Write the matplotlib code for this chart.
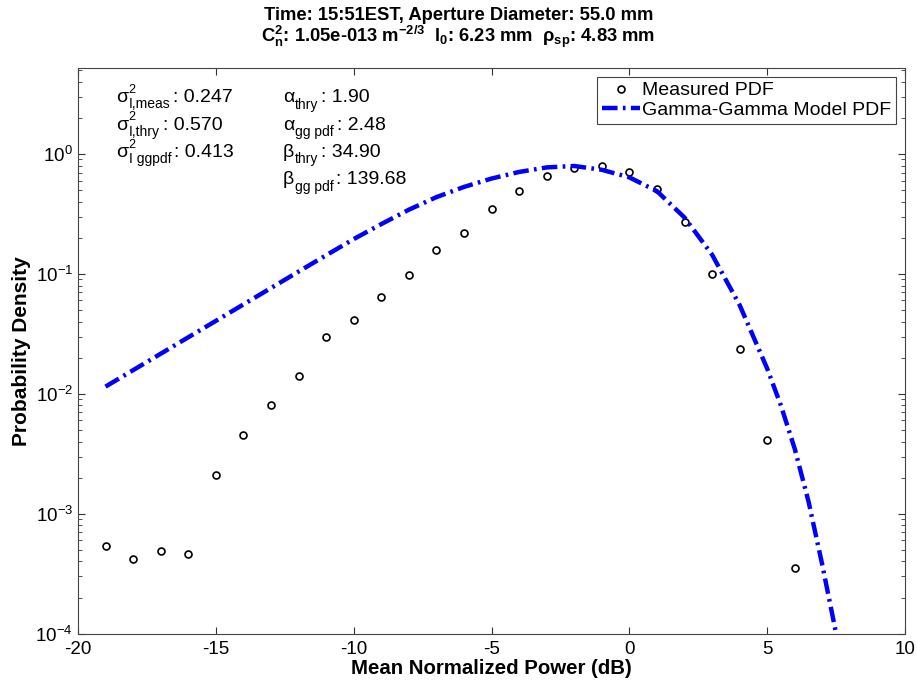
import matplotlib
matplotlib.use("Agg")
import matplotlib.pyplot as plt
import numpy as np

plt.rcParams['font.family'] = ['Liberation Sans', 'DejaVu Sans']
plt.rcParams['mathtext.fontset'] = 'custom'
plt.rcParams['mathtext.rm'] = 'Liberation Sans'
plt.rcParams['mathtext.it'] = 'Liberation Sans'
plt.rcParams['mathtext.bf'] = 'Liberation Sans:bold'
plt.rcParams['axes.unicode_minus'] = False

# measured PDF
meas_x = [-19, -18, -17, -16, -15, -14, -13, -12, -11, -10, -9, -8, -7, -6, -5, -4, -3, -2, -1, 0, 1, 2, 3, 4, 5, 6]
meas_y = [5.4e-4, 4.2e-4, 4.9e-4, 4.6e-4, 2.1e-3, 4.5e-3, 8.1e-3, 0.014, 0.030, 0.041, 0.064, 0.098,
          0.158, 0.22, 0.35, 0.49, 0.66, 0.76, 0.79, 0.71, 0.51, 0.27, 0.10, 0.0237, 0.0041, 3.55e-4]

# gamma-gamma model curve (log10 of density)
gg_x = [-19, -18, -17, -16, -15, -14, -13, -12, -11, -10, -9, -8, -7, -6, -5, -4, -3, -2, -1,
        0, 1, 2, 3, 4, 5, 5.5, 6, 6.5, 7, 7.5]
gg_log = [-1.94, -1.803, -1.666, -1.529, -1.392, -1.255, -1.118, -0.981, -0.845, -0.71, -0.585,
          -0.465, -0.36, -0.275, -0.205, -0.15, -0.112, -0.1, -0.132, -0.195, -0.31, -0.53,
          -0.84, -1.26, -1.79, -2.1, -2.46, -2.9, -3.43, -4.0]

# annotation rows: (symbol, superscript, subscript, value)
left_rows = [('\u03c3', '2', 'I,meas', ': 0.247'),
             ('\u03c3', '2', 'I,thry', ': 0.570'),
             ('\u03c3', '2', 'I ggpdf', ': 0.413')]
right_rows = [('\u03b1', '', 'thry', ': 1.90'),
              ('\u03b1', '', 'gg pdf', ': 2.48'),
              ('\u03b2', '', 'thry', ': 34.90'),
              ('\u03b2', '', 'gg pdf', ': 139.68')]

W, H = 917, 688
fig = plt.figure(figsize=(9.17, 6.88), dpi=100)
ax = fig.add_axes([0.085, 0.079, 0.902, 0.822])

ax.semilogy(meas_x, meas_y, 'o', mfc='none', mec='black', ms=5, mew=1.2, label='Measured PDF')
ax.semilogy(gg_x, 10 ** np.array(gg_log), color='#0000ff', lw=3.2,
            linestyle=(0, (3.5, 1.2, 0.6, 1.2)), label='Gamma-Gamma Model PDF')

ax.set_xlim(-20, 10)
ax.set_ylim(1e-4, 5.2)
ax.set_xticks([-20, -15, -10, -5, 0, 5, 10])
ax.tick_params(which='both', direction='in', top=True, right=True, labelsize=13.5, colors='#333333')
ax.tick_params(axis='both', labelcolor='black')
ax.tick_params(which='major', length=5)
ax.tick_params(which='minor', length=3)
ax.tick_params(axis='x', pad=5)
for s in ax.spines.values():
    s.set_color('#444444')

ax.set_xlabel('Mean Normalized Power (dB)', fontsize=14.7, fontweight='bold', labelpad=1)
ax.set_ylabel('Probability Density', fontsize=15, fontweight='bold', labelpad=3)

fig.text(0.5, 0.977, 'Time: 15:51EST, Aperture Diameter: 55.0 mm',
         ha='center', va='center', fontsize=13.2, fontweight='bold')
fig.text(0.5, 0.947, r'C$_{\mathbf{n}}^{\mathbf{2}}$: 1.05e-013 m$^{\mathbf{-2/3}}$  '
         r'l$_{\mathbf{0}}$: 6.23 mm  $\mathbf{\rho}_{\mathbf{sp}}$: 4.83 mm',
         ha='center', va='center', fontsize=13.2, fontweight='bold')

renderer = fig.canvas.get_renderer()


def put_row(x0, base, sym, sup, sub, val):
    # x0, base in pixels from top-left
    t = fig.text(x0 / W, 1 - base / H, sym, fontsize=14, va='baseline', ha='left')
    w = t.get_window_extent(renderer).width
    xs = x0 + w + 0.5
    wsub = wsup = 0
    if sub:
        ts = fig.text(xs / W, 1 - (base + 6.5) / H, sub, fontsize=10, va='baseline', ha='left')
        wsub = ts.get_window_extent(renderer).width
    if sup:
        tp = fig.text(xs / W, 1 - (base - 9) / H, sup, fontsize=9, va='baseline', ha='left')
        wsup = tp.get_window_extent(renderer).width
    fig.text((xs + max(wsub, wsup) + 3) / W, 1 - base / H, val, fontsize=14,
             va='baseline', ha='left')


for i, r in enumerate(left_rows):
    put_row(116, 102 + i * 27.5, *r)
for i, r in enumerate(right_rows):
    put_row(283, 102 + i * 27.5, *r)

leg = ax.legend(loc='upper right', fontsize=14, fancybox=False, framealpha=1,
                edgecolor='#444444', borderpad=0.25, handlelength=2.0, handletextpad=0.1,
                labelspacing=0.1, borderaxespad=0.45)
leg.get_frame().set_linewidth(0.8)

fig.savefig('out.png', dpi=100)
